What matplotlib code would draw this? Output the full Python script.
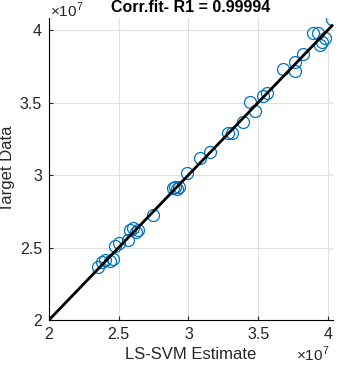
# LS-SVM estimate vs target, correlation fit
import matplotlib.pyplot as plt
import numpy as np
from matplotlib.ticker import FuncFormatter

# values (units of 1e7)
estimate = [2.351, 2.380, 2.401, 2.437, 2.459, 2.473, 2.502, 2.566, 2.581, 2.602,
            2.624, 2.638, 2.746, 2.889, 2.903, 2.918, 2.932, 2.989, 3.082, 3.154,
            3.283, 3.312, 3.390, 3.441, 3.477, 3.534, 3.563, 3.677, 3.763, 3.763,
            3.821, 3.892, 3.928, 3.957, 3.978, 3.943, 4.029]
target = [2.366, 2.400, 2.414, 2.407, 2.421, 2.510, 2.531, 2.552, 2.621, 2.634,
          2.607, 2.621, 2.724, 2.910, 2.917, 2.903, 2.917, 3.014, 3.117, 3.159,
          3.290, 3.290, 3.366, 3.503, 3.441, 3.545, 3.566, 3.731, 3.779, 3.717,
          3.834, 3.979, 3.979, 3.917, 3.945, 3.897, 4.076]
fit_slope = 1.0
fit_intercept = 0.0
r_value = '0.99994'

x = np.array(estimate) * 1e7
y = np.array(target) * 1e7

plt.rcParams['font.family'] = ['Liberation Sans', 'DejaVu Sans']
plt.rcParams['mathtext.fontset'] = 'custom'
plt.rcParams['mathtext.rm'] = 'Liberation Sans'

fig = plt.figure(figsize=(3.39, 3.65), dpi=100)
ax = fig.add_axes([0.1445, 0.1233, 0.8375, 0.8274])

xlim = (2.0e7, 4.036e7)
ylim = (2.0e7, 4.083e7)

ax.plot(x, y, 'o', mfc='none', mec=(0, 0.447, 0.741), ms=8.6, mew=0.9, zorder=3)
xf = np.array([xlim[0], 4.03e7])
ax.plot(xf, fit_slope * xf + fit_intercept, '-', color='k', lw=2.0, zorder=4)

ax.set_xlim(*xlim)
ax.set_ylim(*ylim)
ticks = np.arange(2.0e7, 4.01e7, 0.5e7)
ax.set_xticks(ticks)
ax.set_yticks(ticks)
fmt = FuncFormatter(lambda v, p: '%g' % (v / 1e7))
ax.xaxis.set_major_formatter(fmt)
ax.yaxis.set_major_formatter(fmt)

ax.grid(True, color='#e0e0e0', lw=0.8)
ax.set_axisbelow(True)
ax.spines['top'].set_visible(False)
ax.spines['right'].set_visible(False)
ax.tick_params(direction='in', length=3, labelsize=11.5, colors='#262626', pad=5)

# exponent labels like matlab
fig.text(50 / 339, 1 - 20 / 365, r'$\times10^{7}$', fontsize=11, color='#262626',
         ha='left', va='bottom')
fig.text(296 / 339, 1 / 365, r'$\times10^{7}$', fontsize=11, color='#262626',
         ha='left', va='bottom')

ax.set_xlabel('LS-SVM Estimate', fontsize=12, color='#262626', labelpad=4)
ax.set_ylabel('Target Data', fontsize=12, color='#262626')
ax.yaxis.set_label_coords(-0.118, 0.5)
ax.set_title('Corr.fit- R1 = ' + r_value, fontsize=11.5, fontweight='bold', pad=4)

fig.savefig('out.png', dpi=100)
